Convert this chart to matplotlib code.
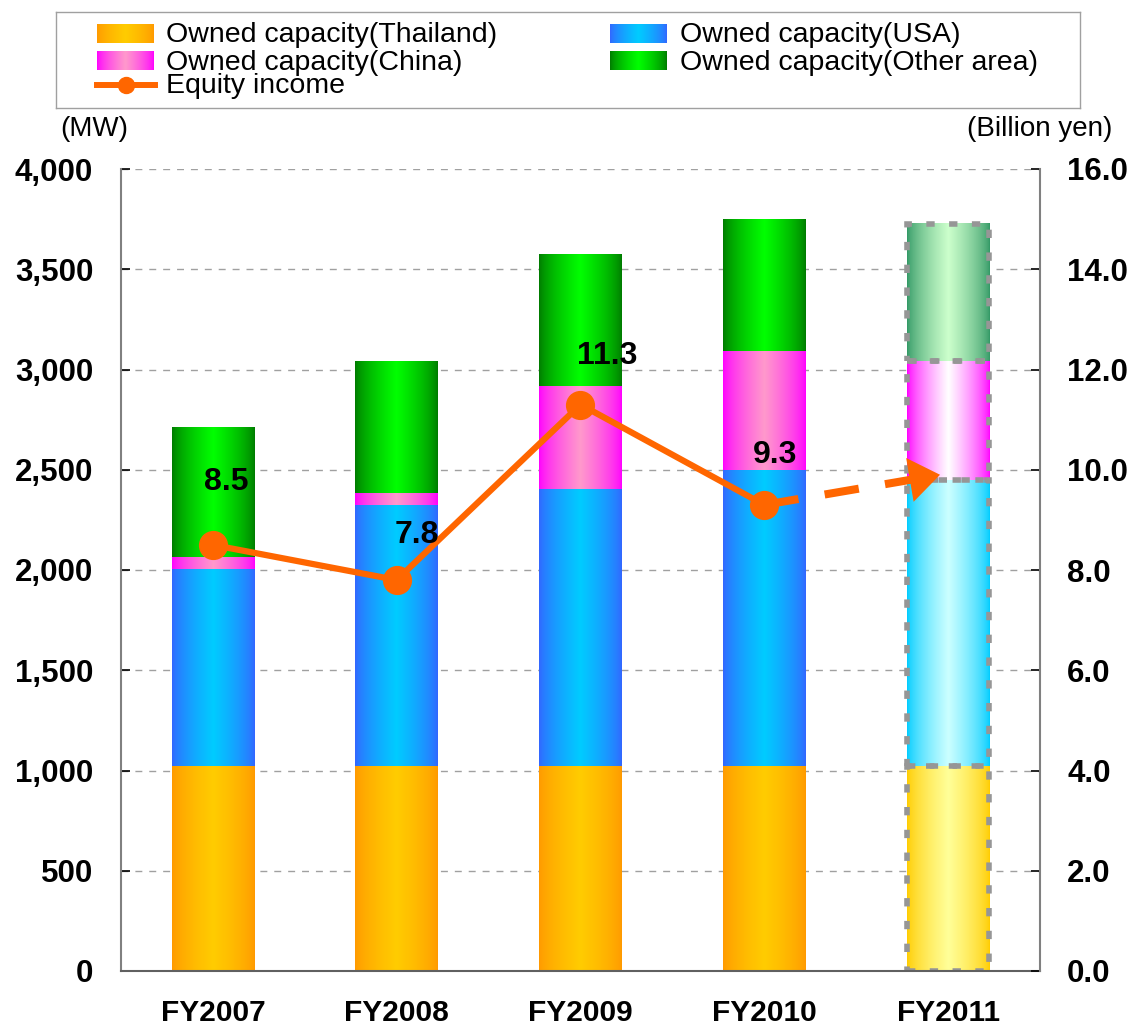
import numpy as np
import matplotlib.pyplot as plt
from matplotlib.colors import to_rgb
from matplotlib.ticker import FuncFormatter, MultipleLocator

plt.rcParams['font.family'] = ['Liberation Sans', 'DejaVu Sans']

# data
years = ['FY2007', 'FY2008', 'FY2009', 'FY2010', 'FY2011']
series = ['Owned capacity(Thailand)', 'Owned capacity(USA)',
          'Owned capacity(China)', 'Owned capacity(Other area)']
thailand = [1020, 1020, 1020, 1020, 1020]
usa = [985, 1305, 1385, 1480, 1430]
china = [60, 60, 515, 590, 590]
other = [645, 655, 655, 655, 685]
equity = [8.5, 7.8, 11.3, 9.3]
equity_forecast = 9.9          # where the dashed arrow points for FY2011
equity_labels = ['8.5', '7.8', '11.3', '9.3']

# gradient colours (edge, centre) for actual and forecast bars
edge_cols = ['#FF9900', '#3366FF', '#FF00FF', '#007A00']
center_cols = ['#FFCC00', '#00CCFF', '#FF99CC', '#00FF00']
fc_edge_cols = ['#FFCC00', '#00CCFF', '#FF00FF', '#339966']
fc_center_cols = ['#FFFF99', '#CCFFFF', '#FFFFFF', '#CCFFCC']
orange = '#FF6600'


def gradient(edge, center, n=128):
    u = np.linspace(0, 1, n)
    t = (1 - np.abs(2 * u - 1)) ** 0.7
    e, c = np.array(to_rgb(edge)), np.array(to_rgb(center))
    return (e + (c - e) * t[:, None])[None, :, :]


def fill_gradient(ax, patch, edge, center):
    x0, y0 = patch.get_x(), patch.get_y()
    w, h = patch.get_width(), patch.get_height()
    ax.imshow(gradient(edge, center), extent=(x0, x0 + w, y0, y0 + h),
              aspect='auto', interpolation='bilinear', zorder=1)


fig = plt.figure(figsize=(11.31, 10.33), dpi=100)
W, H = 1131, 1033
ax = fig.add_axes([121 / W, 1 - 971 / H, (1040 - 121) / W, (971 - 169) / H])

x = np.arange(len(years))
stack = [thailand, usa, china, other]
bottom = np.zeros(len(years))
for k, vals in enumerate(stack):
    bars = ax.bar(x, vals, width=0.45, bottom=bottom, facecolor='none',
                  edgecolor='none', zorder=2)
    for i, p in enumerate(bars.patches):
        if i == len(years) - 1:
            fill_gradient(ax, p, fc_edge_cols[k], fc_center_cols[k])
            p.set_edgecolor('#969696')
            p.set_linewidth(4.0)
            p.set_linestyle((0, (1.5, 2.6)))
        else:
            fill_gradient(ax, p, edge_cols[k], center_cols[k])
    bottom += np.array(vals)

ax.set_xlim(-0.5, 4.5)
ax.set_ylim(0, 4000)
ax.yaxis.set_major_locator(MultipleLocator(500))
ax.yaxis.set_major_formatter(FuncFormatter(lambda v, p: f'{int(v):,}'))
ax.grid(axis='y', color='#A0A0A0', lw=1.0, linestyle=(0, (5, 5)))
ax.set_axisbelow(True)
ax.set_xticks(x)
ax.set_xticklabels(years, fontsize=21.5, fontweight='bold')
ax.tick_params(axis='x', length=0, pad=20)
ax.tick_params(axis='y', direction='in', length=6.5, width=1.2, pad=20,
               labelsize=22.5)
for lab in ax.get_yticklabels():
    lab.set_fontweight('bold')
ax.spines['top'].set_visible(False)
ax.spines['right'].set_visible(False)
ax.spines['left'].set_color('#808080')
ax.spines['left'].set_linewidth(1.5)
ax.spines['bottom'].set_color('#606060')
ax.spines['bottom'].set_linewidth(1.5)

# equity income on the right axis
ax2 = ax.twinx()
ax2.set_ylim(0, 16)
ax2.yaxis.set_major_locator(MultipleLocator(2))
ax2.yaxis.set_major_formatter(FuncFormatter(lambda v, p: f'{v:.1f}'))
ax2.tick_params(axis='y', direction='in', length=6.5, width=1.2, pad=19.5,
                labelsize=22.5)
for lab in ax2.get_yticklabels():
    lab.set_fontweight('bold')
for s in ['top', 'left', 'bottom']:
    ax2.spines[s].set_visible(False)
ax2.spines['right'].set_color('#808080')
ax2.spines['right'].set_linewidth(1.5)

ex = x[:len(equity)]
ax2.plot(ex, equity, color=orange, lw=4.5, marker='o', ms=20, zorder=5)

# dashed forecast arrow
x_tip = 3.956
x_base = 3 + (x_tip - 3) * 0.84
y_base = equity[-1] + (equity_forecast - equity[-1]) * 0.84
ax2.plot([3, x_base], [equity[-1], y_base], color=orange, lw=5.8,
         linestyle=(0, (4.3, 3.3)), solid_capstyle='butt',
         dash_capstyle='butt', zorder=4)
ax2.annotate('', xy=(x_tip, equity_forecast), xytext=(x_base - 0.02, y_base - 0.012),
             arrowprops=dict(arrowstyle='-|>,head_length=22,head_width=16',
                             mutation_scale=1, color=orange, lw=0,
                             shrinkA=0, shrinkB=0), zorder=4)

offsets = [(13, 55), (20, 37), (27, 41), (11, 42)]
for i, (v, t) in enumerate(zip(equity, equity_labels)):
    ax2.annotate(t, xy=(ex[i], v), xytext=offsets[i], textcoords='offset pixels',
                 ha='center', va='baseline', fontsize=23, fontweight='bold',
                 zorder=6)

# unit labels
fig.text(60 / W, 1 - 136 / H, '(MW)', fontsize=20, ha='left', va='baseline')
fig.text(1112 / W, 1 - 136 / H, '(Billion yen)', fontsize=20, ha='right',
         va='baseline')

# legend box
lx0, lx1, ly0, ly1 = 55.7, 1080, 12, 108
lax = fig.add_axes([lx0 / W, 1 - ly1 / H, (lx1 - lx0) / W, (ly1 - ly0) / H])
lax.set_xlim(lx0, lx1)
lax.set_ylim(ly1, ly0)
lax.set_xticks([])
lax.set_yticks([])
for s in lax.spines.values():
    s.set_color('#A0A0A0')
    s.set_linewidth(1.0)

slots = [(97, 24, 166, 41.5), (610, 24, 680, 41.5),
         (97, 51, 166, 69.5), (610, 51, 680, 69.5)]
for k, (px, py, tx, ty) in enumerate(slots):
    lax.imshow(gradient(edge_cols[k], center_cols[k]),
               extent=(px, px + 57, py + 19, py), aspect='auto',
               interpolation='bilinear')
    lax.text(tx, ty, series[k], fontsize=20.5, ha='left', va='baseline')
lax.plot([97, 155], [85, 85], color=orange, lw=4.3)
lax.plot([126], [85], marker='o', ms=11.5, color=orange)
lax.text(166, 93, 'Equity income', fontsize=20.5, ha='left', va='baseline')
lax.set_xlim(lx0, lx1)
lax.set_ylim(ly1, ly0)

fig.savefig('out.png', dpi=100)
